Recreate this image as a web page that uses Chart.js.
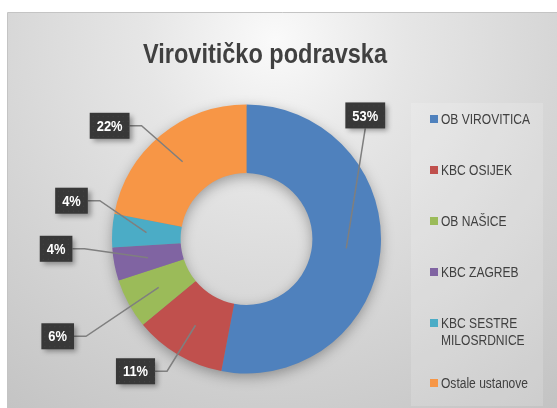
<!DOCTYPE html>
<html>
<head>
<meta charset="utf-8">
<script src="https://cdn.jsdelivr.net/npm/chart.js"></script>
<style>
  html, body { margin: 0; padding: 0; background: #fff; }
  #wrap { width: 557px; height: 408px; position: relative; }
</style>
</head>
<body>
<div id="wrap"><canvas id="pieChart"></canvas></div>
<script>
// chart data
const chartTitle = 'Virovitičko podravska';
const categories = ['OB VIROVITICA', 'KBC OSIJEK', 'OB NAŠICE', 'KBC ZAGREB', 'KBC SESTRE MILOSRDNICE', 'Ostale ustanove'];
const legendLines = [['OB VIROVITICA'], ['KBC OSIJEK'], ['OB NAŠICE'], ['KBC ZAGREB'], ['KBC SESTRE', 'MILOSRDNICE'], ['Ostale ustanove']];
const shares = [53, 11, 6, 4, 4, 22];

// styling
const sliceColors = ['#4F81BD', '#C0504D', '#9BBB59', '#8064A2', '#4BACC6', '#F79646'];
// where each label box sits, relative to the middle of its slice
const labelOffsets = [[19, -133], [-60, 46], [-101, 49], [-92, -9], [-75, -32], [-73, -36]];

// draws text squeezed horizontally, like a narrow font
function narrowText(ctx, text, x, y, sx, align) {
  ctx.save();
  ctx.translate(x, y);
  ctx.scale(sx, 1);
  ctx.textAlign = align || 'left';
  ctx.fillText(text, 0, 0);
  ctx.restore();
}

const backdrop = {
  id: 'backdrop',
  beforeDraw(chart) {
    const ctx = chart.ctx;
    const w = chart.width, h = chart.height;
    ctx.save();
    ctx.fillStyle = '#ffffff';
    ctx.fillRect(0, 0, w, h);
    const g = ctx.createRadialGradient(275, 40, 0, 275, 40, 520);
    g.addColorStop(0, '#fafafa');
    g.addColorStop(0.25, '#e6e6e6');
    g.addColorStop(0.65, '#d0d0d0');
    g.addColorStop(1, '#bdbdbd');
    ctx.fillStyle = g;
    ctx.fillRect(8, 12, w - 8, h - 12);
    ctx.strokeStyle = '#c4c4c4';
    ctx.lineWidth = 1;
    ctx.beginPath();
    ctx.moveTo(7.5, h);
    ctx.lineTo(7.5, 12.5);
    ctx.lineTo(w, 12.5);
    ctx.stroke();

    // title
    ctx.fillStyle = '#404040';
    ctx.font = 'bold 28px "Liberation Sans", Arial, sans-serif';
    ctx.textBaseline = 'middle';
    narrowText(ctx, chartTitle, 265, 55, 0.84, 'center');

    // legend panel
    ctx.fillStyle = 'rgba(255,255,255,0.16)';
    ctx.fillRect(411, 103, 132, 303);
    ctx.font = '14px "Liberation Sans", Arial, sans-serif';
    let y = 119;
    legendLines.forEach((lines, i) => {
      ctx.fillStyle = sliceColors[i];
      ctx.fillRect(430, y - 4, 8, 8);
      ctx.fillStyle = '#404040';
      lines.forEach((t, k) => narrowText(ctx, t, 441, y + 1 + k * 17, 0.86));
      y += 51 + (lines.length - 1) * 9;
    });
    ctx.restore();
  },
  beforeDatasetsDraw(chart) {
    // soft shadow under the ring
    const arc = chart.getDatasetMeta(0).data[0];
    const ctx = chart.ctx;
    ctx.save();
    ctx.shadowColor = 'rgba(0,0,0,0.35)';
    ctx.shadowBlur = 14;
    ctx.shadowOffsetY = 4;
    ctx.fillStyle = '#888';
    ctx.beginPath();
    ctx.arc(arc.x, arc.y, arc.outerRadius - 1, 0, Math.PI * 2);
    ctx.arc(arc.x, arc.y, arc.innerRadius + 1, 0, Math.PI * 2, true);
    ctx.fill();
    ctx.restore();
  },
  afterDatasetsDraw(chart) {
    const ctx = chart.ctx;
    const meta = chart.getDatasetMeta(0);
    ctx.save();
    ctx.font = 'bold 15px "Liberation Sans", Arial, sans-serif';
    meta.data.forEach((arc, i) => {
      const p = arc.tooltipPosition();
      const bx = p.x + labelOffsets[i][0];
      const by = p.y + labelOffsets[i][1];
      const text = shares[i] + '%';
      const bw = ctx.measureText(text).width * 0.86 + 14;
      const bh = 26;

      // leader line
      ctx.strokeStyle = '#7f7f7f';
      ctx.lineWidth = 1.5;
      ctx.beginPath();
      if (labelOffsets[i][0] > 0) {
        ctx.moveTo(bx, by + bh / 2);
      } else {
        ctx.moveTo(bx + bw / 2, by);
        ctx.lineTo(bx + bw / 2 + 12, by);
      }
      ctx.lineTo(p.x, p.y);
      ctx.stroke();

      // label box
      ctx.save();
      ctx.shadowColor = 'rgba(0,0,0,0.35)';
      ctx.shadowBlur = 5;
      ctx.shadowOffsetX = 3;
      ctx.shadowOffsetY = 3;
      ctx.fillStyle = '#383838';
      ctx.fillRect(bx - bw / 2, by - bh / 2, bw, bh);
      ctx.restore();
      ctx.fillStyle = 'rgba(255,255,255,0.07)';
      for (let dx = 3; dx < bw; dx += 5) {
        for (let dy = 3; dy < bh; dy += 5) {
          ctx.fillRect(bx - bw / 2 + dx, by - bh / 2 + dy, 1, 1);
        }
      }
      ctx.fillStyle = '#ffffff';
      ctx.textBaseline = 'middle';
      narrowText(ctx, text, bx, by + 1, 0.86, 'center');
    });
    ctx.restore();
  }
};

const ctx = document.getElementById('pieChart').getContext('2d');

const pieChart = new Chart(ctx, {
  type: 'doughnut',
  data: {
    labels: categories,
    datasets: [{
      data: shares,
      backgroundColor: sliceColors,
      borderWidth: 0,
      hoverOffset: 0
    }]
  },
  options: {
    responsive: true,
    maintainAspectRatio: false,
    animation: false,
    cutout: '49%',
    layout: {
      padding: { left: 112, right: 176, top: 104, bottom: 34 }
    },
    plugins: {
      legend: { display: false },
      title: { display: false },
      tooltip: { enabled: false }
    }
  },
  plugins: [backdrop]
});
</script>
</body>
</html>
